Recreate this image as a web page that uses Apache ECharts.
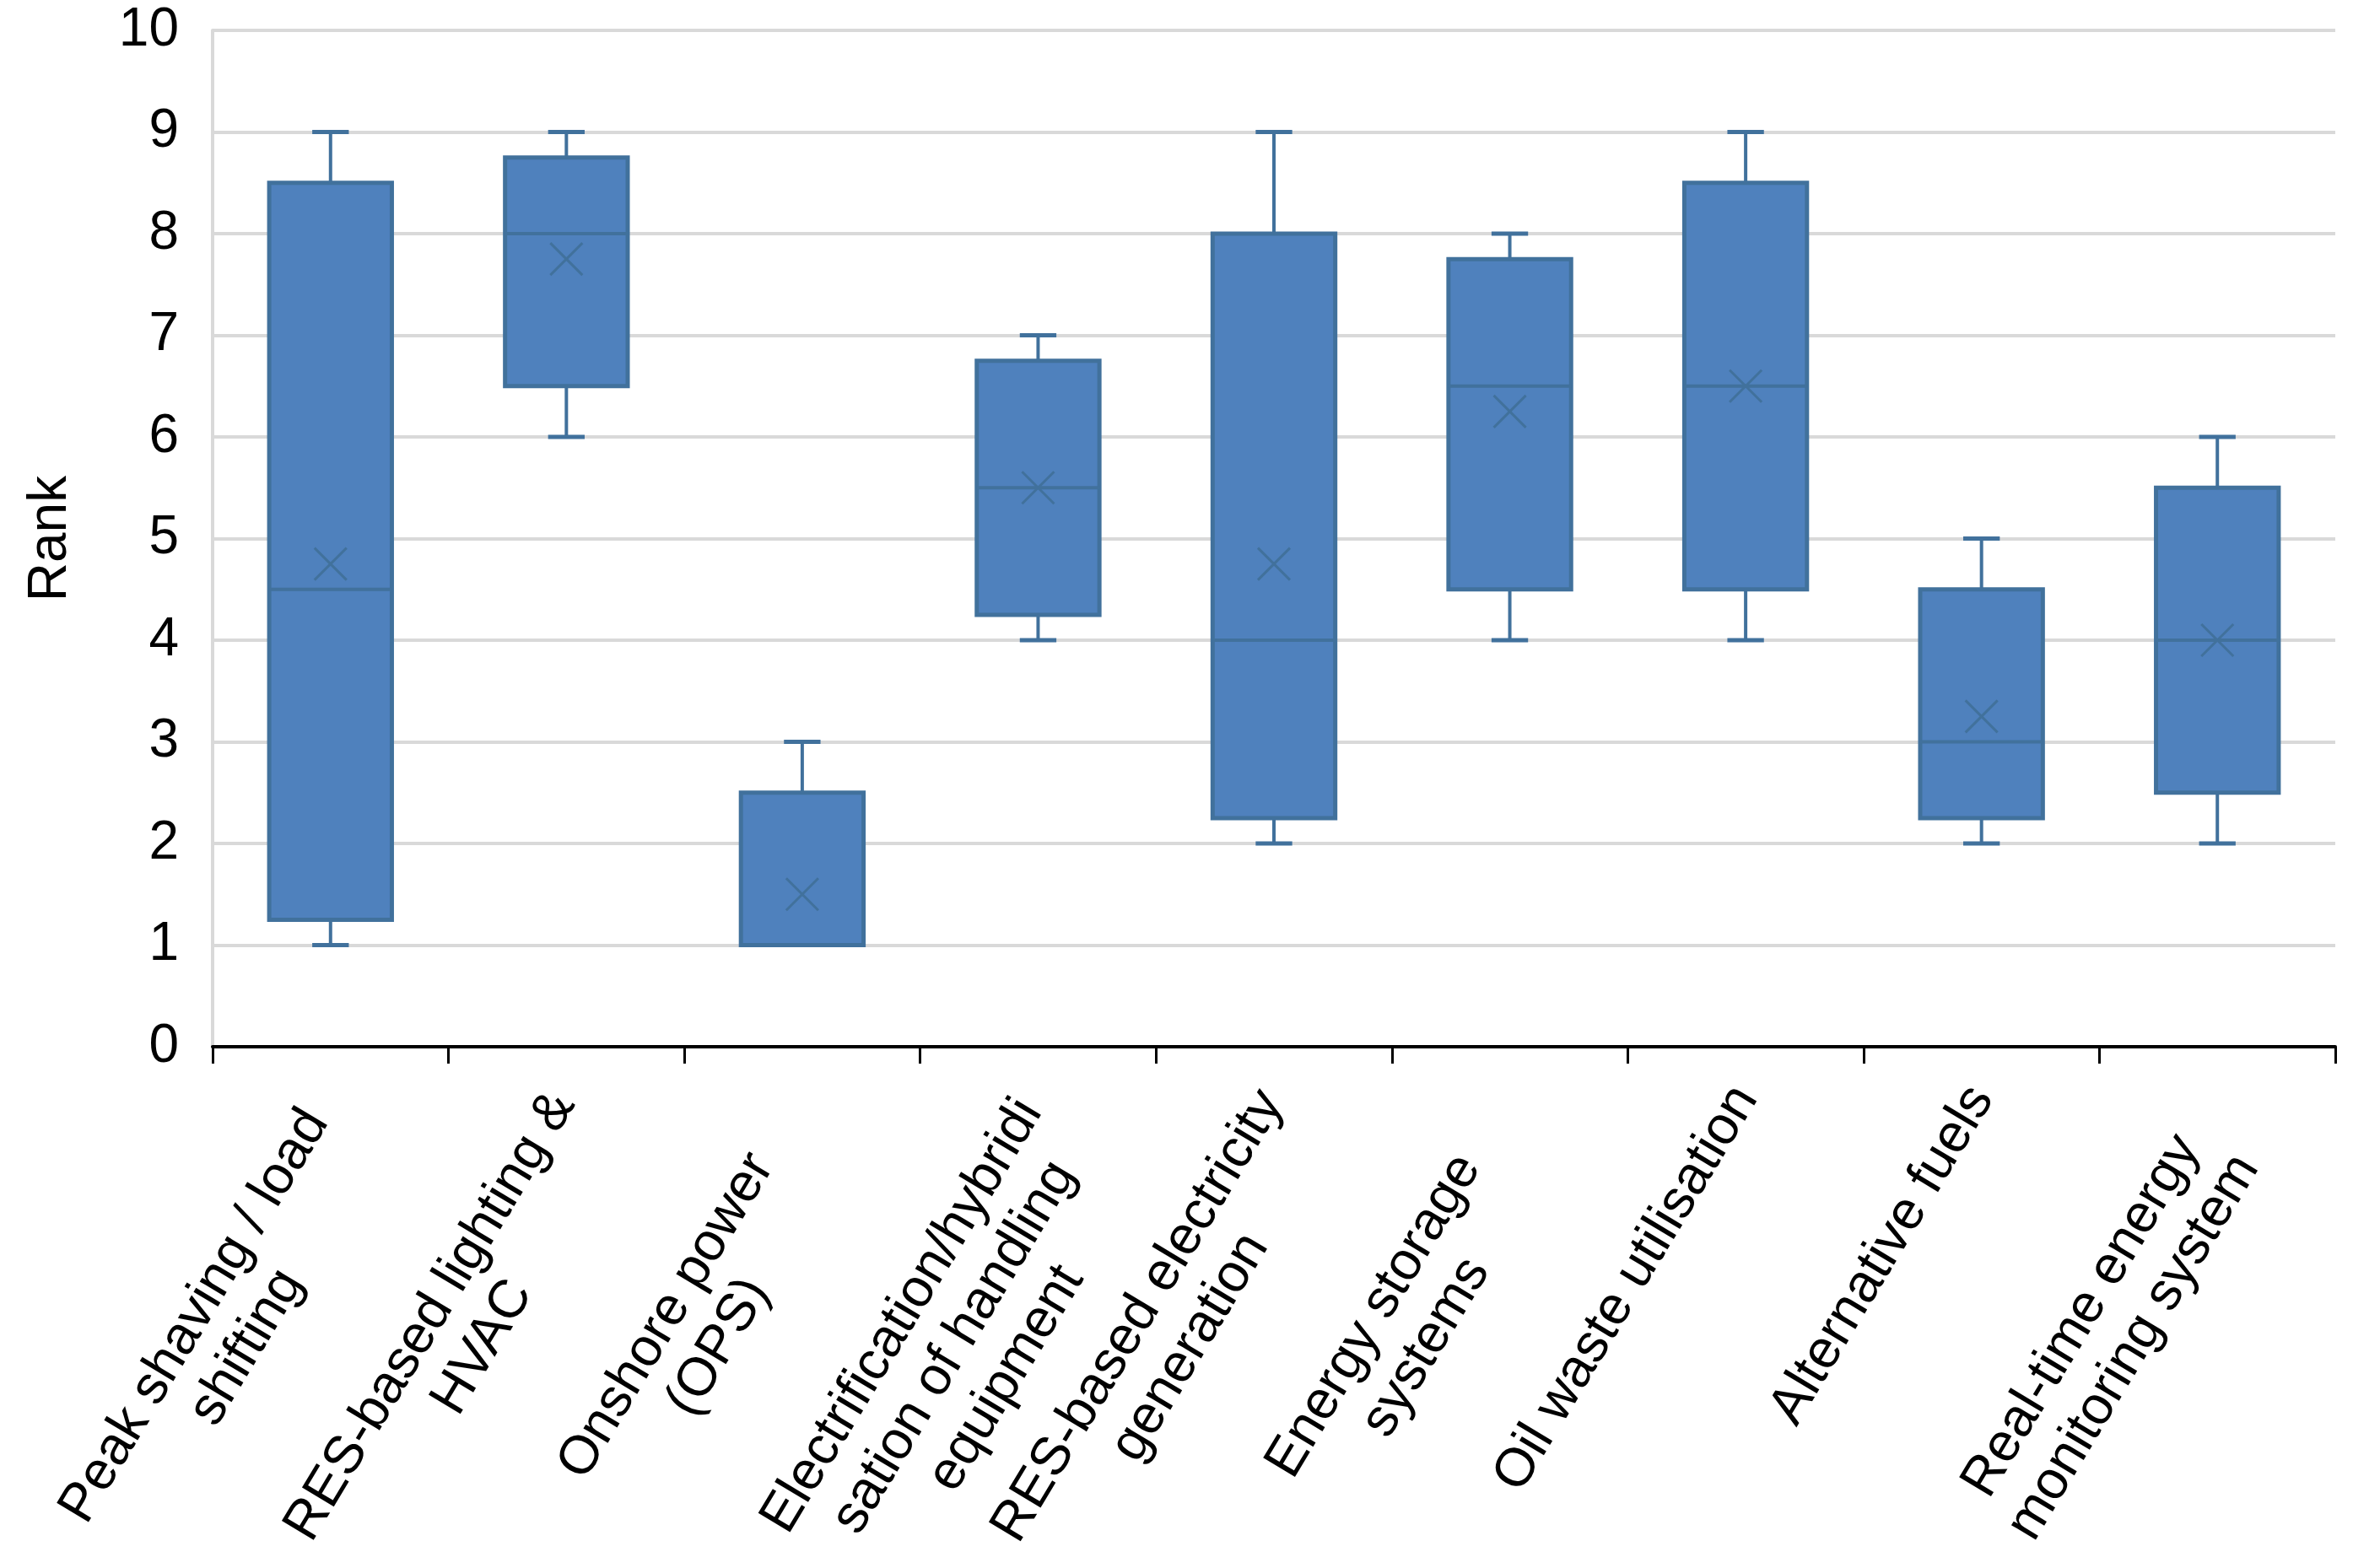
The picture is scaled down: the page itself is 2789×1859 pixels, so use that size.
<!DOCTYPE html>
<html>
<head>
<meta charset="utf-8">
<script src="https://cdn.jsdelivr.net/npm/echarts@6/dist/echarts.min.js"></script>
<style>
html,body{margin:0;padding:0;background:#fff;}
#c{width:2789px;height:1859px;}
</style>
</head>
<body>
<div id="c"></div>
<script>
// Category labels (line breaks as in the reference)
const categories = [
  "Peak shaving / load\nshifting",
  "RES-based lighting &\nHVAC",
  "Onshore power\n(OPS)",
  "Electrification/hybridi\nsation of handling\nequipment",
  "RES-based electricity\ngeneration",
  "Energy storage\nsystems",
  "Oil waste utilisation",
  "Alternative fuels",
  "Real-time energy\nmonitoring system"
];
const minVals    = [1,    6,    1,   4,    2,    4,    4,    2,    2];
const q1Vals     = [1.25, 6.5,  1,   4.25, 2.25, 4.5,  4.5,  2.25, 2.5];
const medianVals = [4.5,  8,    1,   5.5,  4,    6.5,  6.5,  3,    4];
const q3Vals     = [8.5,  8.75, 2.5, 6.75, 8,    7.75, 8.5,  4.5,  5.5];
const maxVals    = [9,    9,    3,   7,    9,    8,    9,    5,    6];
const meanVals   = [4.75, 7.75, 1.5, 5.5,  4.75, 6.25, 6.5,  3.25, 4];
const yTicks = [0,1,2,3,4,5,6,7,8,9,10];
const yAxisName = "Rank";

const FONT = '"Liberation Sans", Arial, sans-serif';
const FS = 64;
const fill = '#4F81BD';
const edge = '#41719C';

// wrapped labels: each line centred in a common wrap box; single-line labels use their own width
const cv = document.createElement('canvas').getContext('2d');
cv.font = FS + 'px ' + FONT;
let W = 0;
categories.forEach(c => c.split('\n').forEach(l => { W = Math.max(W, cv.measureText(l).width); }));
const rich = {
  c: {width: Math.ceil(W) + 12, align: 'center', fontSize: FS, fontFamily: FONT, color: '#000', lineHeight: 72},
  s: {fontSize: FS, fontFamily: FONT, color: '#000', lineHeight: 72}
};

const data = categories.map((c, i) => [i, minVals[i], q1Vals[i], medianVals[i], q3Vals[i], maxVals[i], meanVals[i]]);

function renderItem(params, api) {
  const i = api.value(0);
  const pMin = api.coord([i, api.value(1)]);
  const pQ1 = api.coord([i, api.value(2)]);
  const pMed = api.coord([i, api.value(3)]);
  const pQ3 = api.coord([i, api.value(4)]);
  const pMax = api.coord([i, api.value(5)]);
  const pMean = api.coord([i, api.value(6)]);
  const band = api.size([1, 0])[0];
  const bw = band * 0.52;
  const cap = band * 0.155;
  const x = pQ1[0];
  const ls = {stroke: edge, lineWidth: 4};
  const children = [
    {type: 'line', shape: {x1: x, y1: pMax[1], x2: x, y2: pQ3[1]}, style: ls},
    {type: 'line', shape: {x1: x, y1: pQ1[1], x2: x, y2: pMin[1]}, style: ls},
    {type: 'line', shape: {x1: x - cap/2, y1: pMax[1], x2: x + cap/2, y2: pMax[1]}, style: {stroke: edge, lineWidth: 5}},
    {type: 'line', shape: {x1: x - cap/2, y1: pMin[1], x2: x + cap/2, y2: pMin[1]}, style: {stroke: edge, lineWidth: 5}},
    {type: 'rect', shape: {x: x - bw/2, y: pQ3[1], width: bw, height: pQ1[1] - pQ3[1]}, style: {fill: fill, stroke: edge, lineWidth: 5}},
    {type: 'line', shape: {x1: x - bw/2, y1: pMed[1], x2: x + bw/2, y2: pMed[1]}, style: {stroke: edge, lineWidth: 4}},
  ];
  const m = 19;
  children.push({type: 'line', shape: {x1: x - m, y1: pMean[1] - m, x2: x + m, y2: pMean[1] + m}, style: {stroke: edge, lineWidth: 3}});
  children.push({type: 'line', shape: {x1: x - m, y1: pMean[1] + m, x2: x + m, y2: pMean[1] - m}, style: {stroke: edge, lineWidth: 3}});
  return {type: 'group', children};
}

const chart = echarts.init(document.getElementById('c'), null, {renderer: 'canvas'});
chart.setOption({
  animation: false,
  backgroundColor: '#fff',
  grid: {left: 252, right: 21, top: 36, bottom: 618, containLabel: false, outerBoundsMode: 'none'},
  xAxis: {
    type: 'category',
    data: categories,
    axisLine: {lineStyle: {color: '#000', width: 4}},
    axisTick: {show: true, length: 20, lineStyle: {color: '#000', width: 3}},
    axisLabel: {
      interval: 0, rotate: 59, margin: 52,
      align: 'right', verticalAlign: 'middle',
      fontSize: FS, fontFamily: FONT, color: '#000',
      formatter: (v) => {
        const lines = v.split('\n');
        const tag = lines.length > 1 ? 'c' : 's';
        // blank lines on top so that the first text line sits at the anchor (Excel-like placement)
        const pad = [];
        for (let k = 1; k < lines.length; k++) pad.push('{' + tag + '| }');
        return pad.concat(lines.map(l => '{' + tag + '|' + l + '}')).join('\n');
      },
      rich: rich
    }
  },
  yAxis: {
    type: 'value', min: yTicks[0], max: yTicks[yTicks.length - 1], interval: 1,
    name: yAxisName, nameLocation: 'middle', nameGap: 160, nameRotate: 90,
    nameTextStyle: {fontSize: FS, fontFamily: FONT, color: '#000'},
    axisLine: {show: true, lineStyle: {color: '#d9d9d9', width: 4}},
    axisTick: {show: false},
    axisLabel: {fontSize: FS, fontFamily: FONT, color: '#000', margin: 40},
    splitLine: {lineStyle: {color: '#d9d9d9', width: 4}}
  },
  series: [{
    type: 'custom',
    renderItem: renderItem,
    encode: {x: 0, y: [1, 2, 3, 4, 5, 6]},
    data: data,
    clip: false
  }]
});
</script>
</body>
</html>
